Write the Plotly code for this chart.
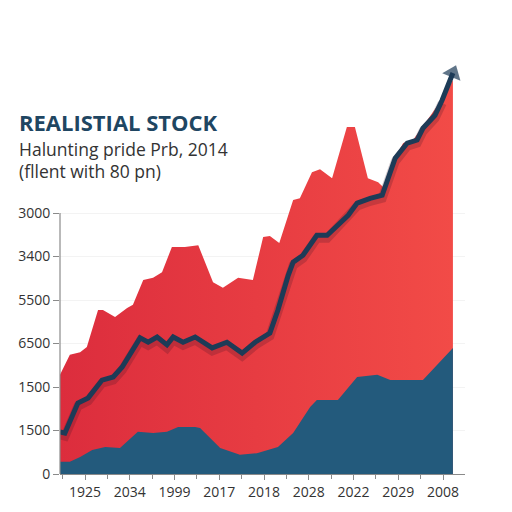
import plotly.graph_objects as go

# ---- data ----
x_labels = ["1925", "2034", "1999", "2017", "2018", "2028", "2022", "2029", "2008"]
y_tick_vals = [0, 1, 2, 3, 4, 5, 6]
y_tick_text = ["0", "1500", "1500", "6500", "5500", "3400", "3000"]

red_x = [-0.56, -0.34, -0.11, 0.04, 0.29, 0.40, 0.67, 0.94, 1.07, 1.30, 1.52, 1.72, 1.94, 2.23,
         2.53, 2.86, 3.08, 3.42, 3.75, 3.98, 4.13, 4.34, 4.65, 4.80, 5.07, 5.25, 5.52, 5.85,
         6.03, 6.32, 6.55, 6.66, 6.93, 7.11, 7.33, 7.49, 7.87, 8.04, 8.22]
red_y = [2.28, 2.74, 2.80, 2.92, 3.77, 3.77, 3.61, 3.82, 3.89, 4.46, 4.51, 4.64, 5.22, 5.22,
         5.26, 4.41, 4.28, 4.51, 4.46, 5.45, 5.47, 5.31, 6.30, 6.34, 6.94, 7.01, 6.80, 7.98,
         7.98, 6.80, 6.71, 6.60, 7.29, 7.61, 7.68, 7.91, 8.44, 8.71, 9.06]

line_x = [-0.56, -0.45, -0.16, 0.07, 0.38, 0.63, 0.83, 1.23, 1.41, 1.61, 1.83, 1.97, 2.19, 2.46,
          2.84, 3.17, 3.51, 3.80, 4.13, 4.31, 4.54, 4.65, 4.87, 5.18, 5.41, 5.63, 5.88, 6.08,
          6.37, 6.64, 6.93, 7.20, 7.42, 7.55, 7.82, 7.98, 8.22]
line_y = [0.97, 0.94, 1.63, 1.75, 2.16, 2.23, 2.46, 3.13, 3.03, 3.15, 2.97, 3.15, 3.03, 3.15,
          2.90, 3.03, 2.78, 3.03, 3.24, 3.77, 4.57, 4.87, 5.03, 5.49, 5.49, 5.72, 5.95, 6.23,
          6.34, 6.41, 7.26, 7.61, 7.68, 7.95, 8.25, 8.60, 9.22]

navy_x = [-0.56, -0.34, -0.11, 0.16, 0.45, 0.78, 1.18, 1.52, 1.83, 2.08, 2.46, 2.57, 3.02, 3.46,
          3.84, 4.31, 4.65, 5.03, 5.18, 5.65, 6.08, 6.53, 6.82, 7.55, 8.22]
navy_y = [0.28, 0.28, 0.39, 0.55, 0.62, 0.60, 0.97, 0.94, 0.97, 1.08, 1.08, 1.06, 0.60, 0.44,
          0.48, 0.62, 0.94, 1.54, 1.70, 1.70, 2.23, 2.28, 2.16, 2.16, 2.90]

fig = go.Figure()

fig.add_trace(go.Scatter(
    x=red_x, y=red_y, mode="lines", fill="tozeroy",
    line=dict(width=0, color="#e8383f"),
    fillgradient=dict(type="horizontal",
                      colorscale=[[0, "#dc2d3d"], [1, "#f24b47"]]),
    hoverinfo="skip", showlegend=False))

fig.add_trace(go.Scatter(
    x=navy_x, y=navy_y, mode="lines", fill="tozeroy",
    line=dict(width=0, color="#235a7c"), fillcolor="#235a7c",
    showlegend=False))

# soft shadow of the line
fig.add_trace(go.Scatter(
    x=line_x[:-1], y=[v - 0.07 for v in line_y[:-1]], mode="lines",
    line=dict(width=9, color="rgba(60,20,35,0.22)"),
    showlegend=False, hoverinfo="skip"))

sizes = [0] * (len(line_x) - 1) + [17]
fig.add_trace(go.Scatter(
    x=line_x, y=line_y, mode="lines+markers",
    line=dict(width=5, color="#1d3b57"),
    marker=dict(symbol="triangle-up", size=sizes, angleref="previous", color="#1d3b57",
                line=dict(width=0)),
    showlegend=False))

# y axis line only up to top tick
fig.add_shape(type="line", xref="paper", yref="y", x0=0, x1=0, y0=0, y1=6,
              line=dict(color="#8a8a8a", width=1.2))

fig.update_layout(
    width=512, height=512,
    margin=dict(l=60, r=47, t=60, b=38),
    paper_bgcolor="white", plot_bgcolor="white",
    font=dict(family="Open Sans", color="#333333"),
    xaxis=dict(range=[-0.56, 8.49], tickmode="array", tickvals=list(range(9)),
               ticktext=x_labels, ticks="outside", ticklen=5, tickcolor="#8a8a8a",
               showline=True, linecolor="#8a8a8a", linewidth=1.2,
               showgrid=False, zeroline=False,
               tickfont=dict(size=14, color="#333333"),
               minor=dict(tickmode="linear", tick0=0, dtick=0.5, ticks="outside",
                          ticklen=4, tickcolor="#8a8a8a")),
    yaxis=dict(range=[0, 9.52], tickmode="array", tickvals=y_tick_vals,
               ticktext=y_tick_text, ticks="outside", ticklen=6, tickcolor="#8a8a8a",
               showline=False, showgrid=True, gridcolor="#f3f3f3", zeroline=False,
               tickfont=dict(size=14, color="#333333")),
    annotations=[
        dict(text="<b>REALISTIAL STOCK</b>", xref="paper", yref="paper",
             x=-0.107, y=0.8500, xanchor="left", yanchor="middle", showarrow=False,
             font=dict(size=22, color="#1f4662", family="Open Sans")),
        dict(text="Halunting pride Prb, 2014", xref="paper", yref="paper",
             x=-0.107, y=0.7850, xanchor="left", yanchor="middle", showarrow=False,
             font=dict(size=17.5, color="#333333", family="Open Sans")),
        dict(text="(fllent with 80 pn)", xref="paper", yref="paper",
             x=-0.107, y=0.7310, xanchor="left", yanchor="middle", showarrow=False,
             font=dict(size=17.5, color="#333333", family="Open Sans")),
    ],
)

fig.write_html("out.html")
